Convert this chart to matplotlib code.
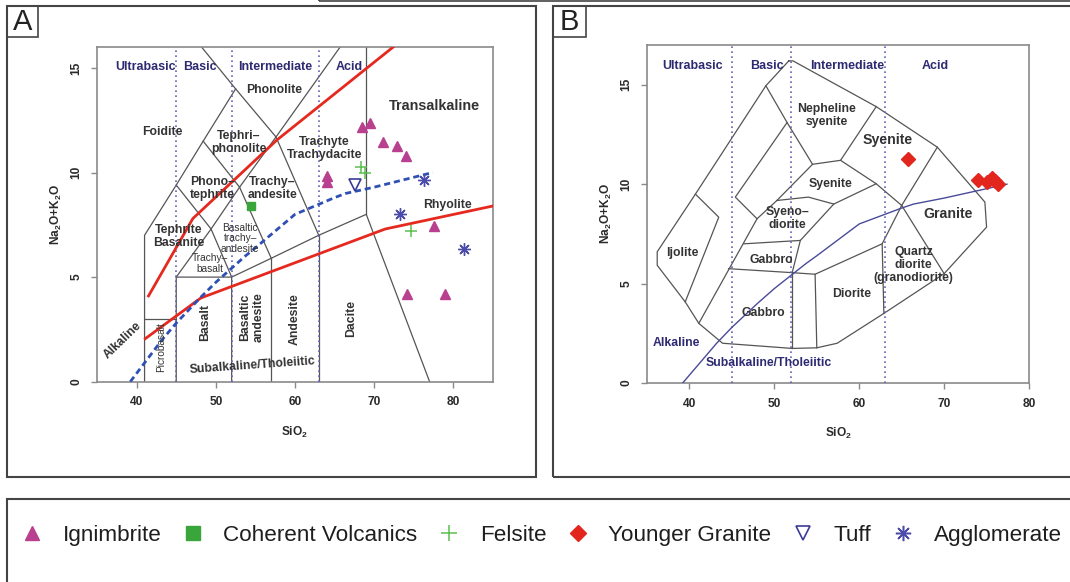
import matplotlib.pyplot as plt
from matplotlib.lines import Line2D
from matplotlib.patches import Rectangle

plt.rcParams["font.family"] = ["Liberation Sans", "DejaVu Sans"]
plt.rcParams["mathtext.fontset"] = "custom"
plt.rcParams["mathtext.rm"] = "Liberation Sans"
plt.rcParams["mathtext.bf"] = "Liberation Sans:bold"

# Analyses : SiO2 (wt%) / Na2O+K2O (wt%)
ign_sio2 = [68.5, 69.5, 71.1, 72.9, 74.0, 64.1, 64.1, 77.5, 74.2, 78.9]
ign_alk = [12.17, 12.36, 11.45, 11.26, 10.81, 9.82, 9.54, 7.42, 4.2, 4.2]
coh_sio2 = [54.5]
coh_alk = [8.42]
fel_sio2 = [68.3, 68.9, 74.6]
fel_alk = [10.25, 10.0, 7.19]
tuff_sio2 = [67.6]
tuff_alk = [9.38]
agg_sio2 = [76.3, 73.2, 81.4]
agg_alk = [9.62, 8.02, 6.32]
ygr_sio2 = [65.8, 74.0, 75.0, 75.6, 76.0, 76.4]
ygr_alk = [11.27, 10.2, 10.1, 10.3, 10.15, 10.0]

# Irvine & Baragar (1971) alkaline / subalkaline divide
ib_sio2 = [39.2, 40, 43.2, 45, 48, 50, 53.7, 55, 60, 65, 66.4, 70, 77.4]
ib_alk = [0, 0.4, 2.0, 2.8, 4.0, 4.75, 6.0, 6.4, 8.0, 8.8, 9.0, 9.3, 10.0]

# red series boundaries (panel A)
red_up_sio2 = [41.5, 47.1, 57.7, 72.4]
red_up_alk = [4.1, 7.8, 11.55, 16.0]
red_lo_sio2 = [41.1, 48.1, 71.4, 85.0]
red_lo_alk = [2.06, 4.0, 7.3, 8.4]

# volcanic TAS field boundaries
tas_fields = [
    [(41, 0), (41, 7), (45, 9.4), (48.4, 11.5), (52.5, 14)],
    [(48.2, 16), (52.5, 14), (57.6, 11.7), (63, 7)],
    [(57.6, 11.7), (65.7, 16)],
    [(41, 3), (45, 3)],
    [(45, 0), (45, 5), (49.4, 7.3), (45, 9.4)],
    [(49.4, 7.3), (53, 9.3), (48.4, 11.5)],
    [(53, 9.3), (57.6, 11.7)],
    [(53, 9.3), (57, 5.9)],
    [(45, 5), (52, 5), (49.4, 7.3)],
    [(52, 0), (52, 5), (57, 5.9), (63, 7), (69, 8), (77, 0)],
    [(57, 0), (57, 5.9)],
    [(63, 0), (63, 7)],
    [(69, 8), (69, 16)],
]

# plutonic TAS field boundaries
plut_fields = [
    [(51.7, 16.2), (52.2, 16.2), (62.0, 13.9), (69.2, 11.86), (74.8, 9.1),
     (75.0, 7.84), (70.0, 5.5), (62.9, 3.5), (57.4, 2.0), (55.0, 1.77),
     (52.1, 1.74), (43.9, 2.0), (41.1, 3.0), (39.5, 4.08), (36.2, 5.92),
     (36.2, 6.6), (40.7, 9.5), (49.0, 14.95), (51.7, 16.2)],
    [(40.7, 9.5), (43.45, 8.34), (39.5, 4.08)],
    [(49.0, 14.95), (51.5, 13.1), (54.5, 11.0), (57.8, 11.2), (62.0, 13.9)],
    [(51.5, 13.1), (45.4, 9.35), (47.96, 8.26), (41.1, 3.0)],
    [(47.96, 8.26), (50.3, 9.18), (54.5, 11.0)],
    [(50.3, 9.18), (54.0, 9.35), (57.0, 9.0), (62.0, 10.02), (57.8, 11.2)],
    [(62.0, 10.02), (65.0, 8.93), (69.2, 11.86)],
    [(65.0, 8.93), (62.7, 7.0), (62.9, 3.5)],
    [(65.0, 8.93), (70.0, 5.5)],
    [(57.0, 9.0), (53.06, 7.17), (52.1, 5.55)],
    [(46.4, 7.0), (53.06, 7.17)],
    [(44.6, 5.75), (52.1, 5.55), (54.8, 5.47), (62.7, 7.0)],
    [(52.1, 5.55), (52.1, 1.74)],
    [(54.8, 5.47), (55.0, 1.77)],
]

silica_limits = [45, 52, 63]

GRAY = "#555555"
NAVY = "#2d2a72"
TXT = "#333333"
RED = "#e5291f"
DASH_BLUE = "#2e50b4"
DOT = "#6262b8"
C_IGN = "#b8408e"
C_COH = "#3aa53a"
C_FEL = "#5cbf50"
C_YGR = "#e2261e"
C_TUFF = "#3c3c98"
C_AGG = "#4c4caa"
ASTER = (8, 2, 0)


def draw_fields(ax, fields):
    for seg in fields:
        xs = [p[0] for p in seg]
        ys = [p[1] for p in seg]
        ax.plot(xs, ys, color=GRAY, lw=0.9, zorder=2)


def style_axes(ax, xlim, ylim, xticks):
    ax.set_xlim(*xlim)
    ax.set_ylim(*ylim)
    ax.set_xticks(xticks)
    ax.set_yticks([0, 5, 10, 15])
    for s in ax.spines.values():
        s.set_color("#8a8a8a")
        s.set_linewidth(1.2)
    ax.tick_params(direction="out", length=4.5, width=1, color="#8a8a8a",
                   labelsize=8.6, labelcolor="#2a2a2a", pad=6)
    for lab in ax.get_xticklabels():
        lab.set_fontweight("bold")
    for lab in ax.get_yticklabels():
        lab.set_fontweight("bold")
        lab.set_rotation(90)
        lab.set_va("center")
    ax.set_xlabel(r"$\mathbf{SiO_2}$", fontsize=8.6, color="#2a2a2a", labelpad=12)
    ax.set_ylabel(r"$\mathbf{Na_2O{+}K_2O}$", fontsize=8.6, color="#2a2a2a", labelpad=5)
    for x in silica_limits:
        ax.axvline(x, color=DOT, lw=1.2, ls=(0, (1, 2)), zorder=3)


def label(ax, s, x, y, size=8.8, weight="bold", color=TXT, rot=0, ls=1.15):
    ax.text(x, y, s, fontsize=size, fontweight=weight, color=color, rotation=rot,
            ha="center", va="center", linespacing=ls, zorder=6)


fig = plt.figure(figsize=(10.7, 5.82), dpi=100)
axA = fig.add_axes([0.0907, 0.3442, 0.3700, 0.5750])
axB = fig.add_axes([0.6047, 0.3419, 0.3570, 0.5808])

# ---- Panel A : volcanic TAS ----
draw_fields(axA, tas_fields)
style_axes(axA, (35, 85), (0, 16), [40, 50, 60, 70, 80])
axA.plot(red_up_sio2, red_up_alk, color=RED, lw=2, zorder=4)
axA.plot(red_lo_sio2, red_lo_alk, color=RED, lw=2, zorder=4)
axA.plot(ib_sio2, ib_alk, color=DASH_BLUE, lw=2, ls=(0, (2.2, 1.4)), zorder=4)

axA.plot(ign_sio2, ign_alk, ls="none", marker="^", ms=7.7, color=C_IGN, mec=C_IGN, zorder=7)
axA.plot(coh_sio2, coh_alk, ls="none", marker="s", ms=6, color=C_COH, zorder=7)
axA.plot(fel_sio2, fel_alk, ls="none", marker="+", ms=9, mew=1.1, color=C_FEL, zorder=7)
axA.plot(tuff_sio2, tuff_alk, ls="none", marker="v", ms=8.5, mew=1.2, mfc="none", mec=C_TUFF, zorder=7)
axA.plot(agg_sio2, agg_alk, ls="none", marker=ASTER, ms=9, mew=1.0, color=C_AGG, zorder=7)

for s, x in [("Ultrabasic", 41.1), ("Basic", 47.95), ("Intermediate", 57.45), ("Acid", 66.9)]:
    label(axA, s, x, 15.04, size=9, color=NAVY)

label(axA, "Phonolite", 57.4, 13.96)
label(axA, "Foidite", 43.2, 11.96)
label(axA, "Tephri–\nphonolite", 52.9, 11.45)
label(axA, "Phono–\ntephrite", 49.55, 9.25)
label(axA, "Trachy–\nandesite", 57.1, 9.25)
label(axA, "Trachyte\nTrachydacite", 63.7, 11.16)
label(axA, "Transalkaline", 77.6, 13.2, size=10.4)
label(axA, "Tephrite\nBasanite", 45.3, 6.95)
label(axA, "Basaltic\ntrachy–\nandesite", 53.1, 6.85, size=7.3, weight="normal", ls=1.05)
label(axA, "Trachy–\nbasalt", 49.3, 5.65, size=7.3, weight="normal", ls=1.05)
label(axA, "Rhyolite", 79.2, 8.47)
label(axA, "Picrobasalt", 43.1, 1.64, size=7.3, weight="normal", rot=90)
label(axA, "Basalt", 48.7, 2.84, rot=90)
label(axA, "Basaltic\nandesite", 54.6, 3.08, rot=90)
label(axA, "Andesite", 60.0, 3.0, rot=90)
label(axA, "Dacite", 67.1, 3.0, rot=90)
label(axA, "Alkaline", 38.2, 1.96, rot=44)
label(axA, "Subalkaline/Tholeiitic", 54.6, 0.77, rot=4)

# ---- Panel B : plutonic TAS ----
draw_fields(axB, plut_fields)
style_axes(axB, (35, 80), (0, 17), [40, 50, 60, 70, 80])
axB.plot(ib_sio2, ib_alk, color="#4a4a9a", lw=1.0, zorder=4)
axB.plot(ygr_sio2, ygr_alk, ls="none", marker="D", ms=7.3, color=C_YGR, zorder=7)

for s, x in [("Ultrabasic", 40.33), ("Basic", 49.1), ("Intermediate", 58.6), ("Acid", 69.0)]:
    label(axB, s, x, 15.96, size=9, color=NAVY)

label(axB, "Nepheline\nsyenite", 56.2, 13.45)
label(axB, "Syenite", 63.3, 12.23, size=10.2)
label(axB, "Syenite", 56.6, 10.02)
label(axB, "Syeno–\ndiorite", 51.5, 8.26)
label(axB, "Gabbro", 49.7, 6.17)
label(axB, "Gabbro", 48.7, 3.5)
label(axB, "Ijolite", 39.1, 6.54)
label(axB, "Diorite", 59.1, 4.5)
label(axB, "Granite", 70.5, 8.51, size=10.2)
label(axB, "Quartz\ndiorite\n(granodiorite)", 66.4, 5.92, ls=1.1)
label(axB, "Alkaline", 38.5, 1.99, color=NAVY)
label(axB, "Subalkaline/Tholeiitic", 49.3, 0.99, color=NAVY)

# ---- frames and panel tags ----
W, H = 1070.0, 582.0


def frame(x0, y0, x1, y1, lw=1.5):
    fig.add_artist(Rectangle((x0 / W, 1 - y1 / H), (x1 - x0) / W, (y1 - y0) / H,
                             transform=fig.transFigure, fill=False, ec="#444444",
                             lw=lw, clip_on=False))


frame(7, 6, 536, 477)
frame(553, 6, 1080, 477)
frame(7, 499, 1080, 600)
frame(319, -20, 1080, 1.2, lw=1.2)
frame(7, 6, 38, 37, lw=1.2)
frame(553, 6, 586, 37, lw=1.2)
fig.text(22.5 / W, 1 - 22 / H, "A", fontsize=21, ha="center", va="center", color="#222222")
fig.text(569.5 / W, 1 - 22 / H, "B", fontsize=21, ha="center", va="center", color="#222222")

# ---- legend ----
handles = [
    Line2D([], [], ls="none", marker="^", ms=9.6, color=C_IGN),
    Line2D([], [], ls="none", marker="s", ms=9.4, color=C_COH),
    Line2D([], [], ls="none", marker="+", ms=12, mew=1.1, color=C_FEL),
    Line2D([], [], ls="none", marker="D", ms=8.5, color=C_YGR),
    Line2D([], [], ls="none", marker="v", ms=10.5, mew=1.2, mfc="none", mec=C_TUFF),
    Line2D([], [], ls="none", marker=ASTER, ms=11, mew=1.1, color=C_AGG),
]
names = ["Ignimbrite", "Coherent Volcanics", "Felsite", "Younger Granite", "Tuff", "Agglomerate"]
fig.legend(handles, names, loc="center", bbox_to_anchor=(0.5056, 0.080), ncol=6,
           frameon=False, fontsize=16.2, handlelength=1.0, handletextpad=0.87,
           columnspacing=0.89, labelcolor="#1e1e1e")

fig.savefig("out.png", dpi=100)
